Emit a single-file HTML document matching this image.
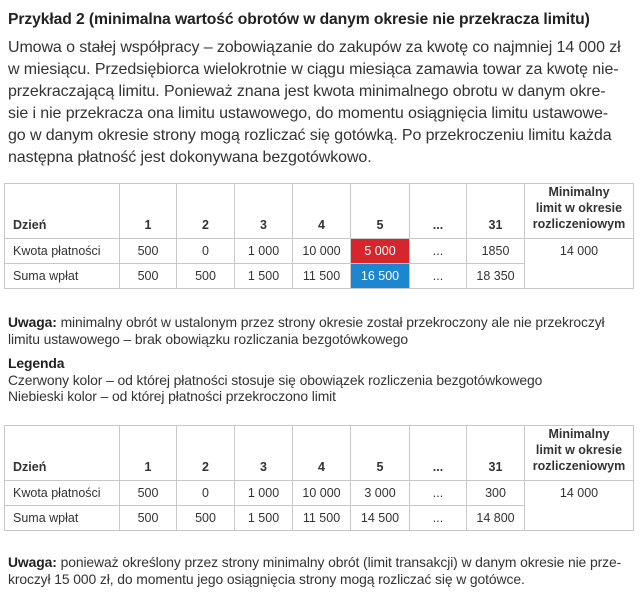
<!DOCTYPE html>
<html><head><meta charset="utf-8"><style>
body{margin:0;width:640px;height:598px;background:#fff;font-family:"Liberation Sans",sans-serif;color:#333;position:relative;overflow:hidden}
.t{position:absolute;left:8px;white-space:nowrap}
.h{font-weight:bold;font-size:15.7px;top:11px;color:#222;letter-spacing:-0.1px}
.p{font-size:16px;line-height:22px;top:37px;letter-spacing:-0.1px}
.s{font-size:13.9px;line-height:16.5px;letter-spacing:-0.1px}
table{position:absolute;left:4px;border-collapse:collapse;font-size:12.5px;color:#333}
td{border:1px solid #c8c8c8;text-align:center;padding:0;height:24px}
tr.hd td{height:47px;vertical-align:bottom;font-weight:bold;padding-bottom:6px}
td.l{text-align:left;padding-left:8px}
.lim{vertical-align:top;padding-top:5px}
</style></head><body>
<div class="t h">Przykład 2 (minimalna wartość obrotów w danym okresie nie przekracza limitu)</div>
<div class="t p">Umowa o stałej współpracy – zobowiązanie do zakupów za kwotę co najmniej 14 000 zł<br>w miesiącu. Przedsiębiorca wielokrotnie w ciągu miesiąca zamawia towar za kwotę nie-<br>przekraczającą limitu. Ponieważ znana jest kwota minimalnego obrotu w danym okre-<br>sie i nie przekracza ona limitu ustawowego, do momentu osiągnięcia limitu ustawowe-<br>go w danym okresie strony mogą rozliczać się gotówką. Po przekroczeniu limitu każda<br>następna płatność jest dokonywana bezgotówkowo.</div>

<table style="top:183px">
<colgroup><col style="width:115px"><col style="width:57px"><col style="width:58px"><col style="width:58px"><col style="width:58px"><col style="width:59px"><col style="width:57px"><col style="width:58px"><col style="width:109px"></colgroup>
<tr class="hd"><td class="l">Dzień</td><td>1</td><td>2</td><td>3</td><td>4</td><td>5</td><td>...</td><td>31</td><td style="line-height:16px">Minimalny<br>limit w okresie<br>rozliczeniowym</td></tr>
<tr><td class="l">Kwota płatności</td><td>500</td><td>0</td><td>1 000</td><td>10 000</td><td style="background:#d7262b;color:#fff">5 000</td><td>...</td><td>1850</td><td rowspan="2" class="lim">14 000</td></tr>
<tr><td class="l">Suma wpłat</td><td>500</td><td>500</td><td>1 500</td><td>11 500</td><td style="background:#1c86cf;color:#fff">16 500</td><td>...</td><td>18 350</td></tr>
</table>

<div class="t s" style="top:314px"><b style="color:#222">Uwaga:</b> minimalny obrót w ustalonym przez strony okresie został przekroczony ale nie przekroczył<br>limitu ustawowego – brak obowiązku rozliczania bezgotówkowego</div>
<div class="t s" style="top:355px"><b style="color:#222">Legenda</b><br>Czerwony kolor – od której płatności stosuje się obowiązek rozliczenia bezgotówkowego<br>Niebieski kolor – od której płatności przekroczono limit</div>

<table style="top:425px">
<colgroup><col style="width:115px"><col style="width:57px"><col style="width:58px"><col style="width:58px"><col style="width:58px"><col style="width:59px"><col style="width:57px"><col style="width:58px"><col style="width:109px"></colgroup>
<tr class="hd"><td class="l">Dzień</td><td>1</td><td>2</td><td>3</td><td>4</td><td>5</td><td>...</td><td>31</td><td style="line-height:16px">Minimalny<br>limit w okresie<br>rozliczeniowym</td></tr>
<tr><td class="l">Kwota płatności</td><td>500</td><td>0</td><td>1 000</td><td>10 000</td><td>3 000</td><td>...</td><td>300</td><td rowspan="2" class="lim">14 000</td></tr>
<tr><td class="l">Suma wpłat</td><td>500</td><td>500</td><td>1 500</td><td>11 500</td><td>14 500</td><td>...</td><td>14 800</td></tr>
</table>

<div class="t s" style="top:554px"><b style="color:#222">Uwaga:</b> ponieważ określony przez strony minimalny obrót (limit transakcji) w danym okresie nie prze-<br>kroczył 15 000 zł, do momentu jego osiągnięcia strony mogą rozliczać się w gotówce.</div>
</body></html>
